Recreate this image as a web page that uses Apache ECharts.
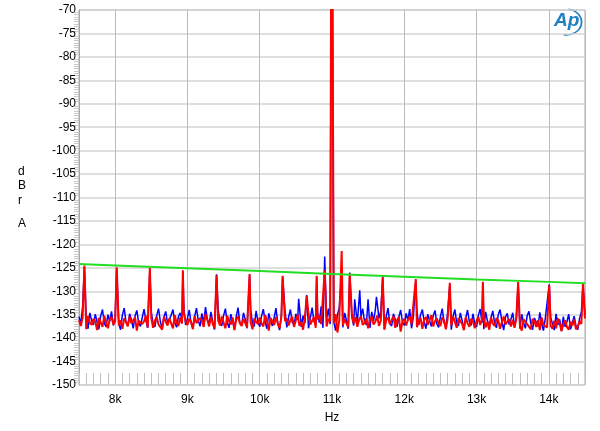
<!DOCTYPE html>
<html>
<head>
<meta charset="utf-8">
<script src="https://cdn.jsdelivr.net/npm/echarts@6/dist/echarts.min.js"></script>
<style>
  html, body { margin: 0; padding: 0; background: #fff; }
  #chart { width: 600px; height: 431px; }
</style>
</head>
<body>
<div id="chart"></div>
<script>
// noise floor, one value every 25 Hz from 7.5k to 14.5k (one row = 500 Hz)
let noiseStart = 7500
let noiseStep = 25
let redNoise = [
  -136.2, -137.4, -135.6, -136.9, -138.1, -135.3, -136.7, -137.2, -135.9, -136.4, -138.3, -135.7, -136.1, -137.6, -135.2, -136.8, -137.9, -136.0, -135.5, -137.1,
  -136.5, -135.1, -137.3, -136.2, -138.0, -135.8, -136.6, -137.5, -135.4, -136.9, -137.2, -135.6, -138.4, -136.3, -135.9, -137.0, -136.4, -135.2, -137.7, -136.1,
  -135.7, -137.8, -136.3, -135.5, -137.1, -136.8, -138.2, -135.4, -136.5, -137.3, -135.8, -136.2, -137.9, -135.1, -136.7, -137.4, -135.6, -136.9, -134.6, -136.4,
  -137.2, -135.9, -136.5, -138.1, -135.3, -136.8, -137.0, -135.7, -136.3, -137.6, -134.9, -136.1, -137.5, -135.5, -136.9, -138.0, -135.8, -136.2, -137.3, -135.4,
  -136.7, -137.9, -135.2, -136.4, -137.1, -135.6, -138.3, -136.0, -135.4, -136.8, -137.4, -135.9, -136.2, -137.7, -135.3, -136.6, -138.1, -135.8, -136.5, -137.0,
  -135.6, -136.9, -137.5, -135.1, -136.3, -138.4, -135.7, -136.0, -137.2, -135.5, -136.8, -137.9, -135.3, -139.1, -136.4, -135.8, -137.3, -136.1, -135.4, -137.6,
  -136.2, -135.0, -137.4, -136.5, -138.2, -135.6, -136.9, -134.8, -137.1, -136.3, -135.5, -137.8, -136.0, -135.2, -137.0, -136.6, -134.7, -137.5, -135.9, -136.4,
  -135.4, -136.8, -134.9, -138.8, -136.2, -135.1, -137.3, -136.0, -135.6, -137.7, -136.4, -134.9, -136.9, -135.5, -137.6, -136.1, -135.3, -137.2, -136.7, -135.8,
  -137.9, -136.0, -135.4, -137.1, -136.5, -135.2, -137.4, -136.3, -135.8, -138.2, -136.1, -135.6, -137.0, -136.7, -135.3, -137.8, -136.2, -135.5, -138.6, -136.4,
  -135.9, -137.3, -136.1, -135.4, -137.0, -136.6, -135.2, -137.7, -136.3, -135.7, -138.0, -136.0, -135.5, -137.2, -136.8, -135.1, -137.5, -136.4, -135.8, -136.9,
  -137.4, -135.6, -136.2, -138.1, -135.9, -136.7, -137.3, -135.4, -136.5, -137.8, -135.7, -136.1, -137.0, -138.3, -135.5, -136.8, -137.6, -135.9, -136.4, -137.9,
  -136.3, -135.5, -137.2, -136.0, -135.8, -137.7, -136.5, -138.2, -135.6, -136.9, -137.4, -135.7, -136.2, -138.0, -136.6, -135.4, -137.1, -136.8, -135.9, -137.5,
  -136.1, -137.8, -135.7, -136.5, -137.3, -138.4, -136.0, -135.8, -137.0, -136.7, -138.1, -135.9, -136.4, -137.6, -136.2, -138.3, -135.6, -137.2, -136.9, -137.7,
  -136.6, -137.4, -138.0, -136.3, -137.9, -135.8, -136.9, -138.5, -137.1, -136.2, -137.6, -138.2, -136.5, -137.3, -136.0, -138.1, -137.5, -136.4, -137.0, -136.1,
  -135.8
]
let blueNoise = [
  -135.4, -136.9, -133.3, -137.5, -135.8, -138.0, -134.6, -136.3, -137.2, -134.9, -136.6, -138.1, -135.2, -133.9, -136.8, -137.6, -135.0, -136.4, -134.3, -137.3,
  -135.7, -134.2, -136.9, -138.2, -135.1, -133.6, -136.5, -137.4, -134.8, -136.0, -137.9, -135.3, -134.1, -136.7, -137.5, -135.6, -133.8, -136.2, -137.8, -135.0,
  -134.5, -136.8, -137.6, -135.2, -133.7, -136.4, -138.0, -135.5, -134.3, -136.9, -137.3, -135.1, -133.9, -136.6, -137.7, -135.4, -134.6, -136.1, -133.5, -137.2,
  -135.8, -134.0, -136.7, -137.9, -135.3, -133.6, -136.2, -137.5, -134.7, -136.9, -133.4, -135.9, -137.1, -134.4, -136.5, -138.2, -135.0, -133.8, -136.8, -137.4,
  -135.2, -133.7, -136.6, -137.8, -134.9, -136.3, -138.1, -135.4, -133.5, -136.7, -137.3, -134.6, -136.0, -137.9, -135.1, -133.9, -136.8, -137.5, -134.2, -136.4,
  -137.6, -135.3, -133.8, -136.5, -138.0, -134.7, -136.2, -137.4, -135.6, -133.6, -136.9, -138.3, -135.0, -136.4, -134.1, -137.7, -135.5, -133.9, -136.6, -137.2,
  -134.8, -136.1, -133.4, -137.6, -135.2, -136.8, -134.0, -137.9, -135.7, -133.5, -136.4, -137.1, -134.5, -136.7, -133.2, -137.8, -135.3, -136.0, -133.7, -137.0,
  -134.3, -136.6, -138.4, -135.0, -133.6, -136.9, -137.7, -134.6, -136.2, -138.0, -133.8, -135.5, -137.3, -134.1, -136.8, -137.9, -135.4, -133.7, -136.5, -137.2,
  -135.1, -137.8, -134.4, -136.3, -133.9, -137.1, -135.8, -134.2, -136.7, -138.1, -135.3, -133.6, -136.9, -137.4, -134.8, -136.0, -137.6, -135.5, -134.0, -136.6,
  -137.3, -134.7, -136.2, -133.8, -137.9, -135.6, -136.8, -134.3, -137.2, -135.0, -133.9, -136.5, -138.0, -134.9, -136.3, -137.5, -135.2, -134.1, -136.9, -137.7,
  -135.4, -133.7, -136.6, -137.8, -134.5, -136.1, -138.2, -135.3, -133.9, -136.8, -137.4, -134.6, -136.2, -137.9, -135.7, -134.0, -136.5, -137.3, -134.8, -136.9,
  -137.6, -135.1, -133.8, -136.7, -138.1, -134.4, -136.3, -137.5, -135.6, -134.2, -136.9, -137.8, -135.0, -133.9, -136.4, -138.3, -135.5, -134.7, -137.1, -136.0,
  -134.6, -137.4, -135.8, -136.5, -138.0, -134.9, -136.7, -137.9, -135.2, -134.3, -136.8, -138.2, -135.7, -136.1, -137.5, -134.5, -136.9, -138.4, -135.9, -136.3,
  -137.8, -135.6, -136.9, -138.3, -134.8, -137.2, -136.0, -138.5, -135.4, -137.6, -136.5, -134.9, -138.1, -136.7, -135.3, -137.4, -138.2, -135.8, -134.4, -137.0,
  -135.1
]

// spikes (Hz / dBr A); the 11k tone runs off the top
let redSpikeFreqs = [7575, 8022, 8480, 8937, 9403, 9860, 10317, 10650, 10788, 10899, 10995, 11005, 11134, 11245, 11702, 12159, 12630, 13087, 13575, 14005, 14472]
let redSpikeLevels = [-124.5, -124.9, -125.0, -125.5, -126.6, -126.3, -126.7, -131.0, -126.7, -125.6, -20, -20, -121.4, -126.2, -127.0, -127.4, -128.2, -128.0, -128.0, -128.7, -128.3]
let blueSpikeFreqs = [7575, 8022, 8480, 8937, 9403, 9860, 10317, 10539, 10650, 10788, 10899, 10995, 11005, 11134, 11245, 11314, 11384, 11499, 11615, 11702, 12159, 12630, 13087, 13575, 14005, 14472]
let blueSpikeLevels = [-124.8, -125.2, -125.3, -125.8, -126.4, -126.6, -127.0, -131.6, -130.8, -127.0, -122.6, -20, -20, -126.5, -126.0, -131.7, -129.8, -131.7, -131.2, -126.8, -127.7, -128.5, -128.3, -128.3, -128.5, -128.6]

// green limit line
let limitFreqs = [7500, 8000, 9000, 10000, 11000, 12000, 13000, 14000, 14500]
let limitLevels = [-124.2, -124.5, -125.1, -125.7, -126.3, -126.9, -127.5, -128.0, -128.3]

function buildTrace(noise, spikeFreqs, spikeLevels) {
  let pts = noise
    .map((v, i) => [noiseStart + i * noiseStep, v])
    .filter(p => !spikeFreqs.some(f => Math.abs(f - p[0]) < 12))
  spikeFreqs.forEach((f, i) => pts.push([f, spikeLevels[i]]))
  pts.sort((a, b) => a[0] - b[0])
  return pts
}

let myChart = echarts.init(document.getElementById('chart'))
let font = 'Liberation Sans, Arial, sans-serif'

let option = {
  animation: false,
  backgroundColor: '#fff',
  grid: {
    left: 79,
    right: 15,
    top: 10,
    bottom: 46,
    show: true,
    borderColor: '#a8a8a8',
    borderWidth: 1
  },
  xAxis: [
    {
      type: 'value',
      min: 7500,
      max: 14500,
      splitNumber: 7,
      name: 'Hz',
      nameLocation: 'middle',
      nameGap: 27,
      nameTextStyle: { fontFamily: font, fontSize: 12, color: '#000' },
      axisLine: { show: false },
      axisTick: { show: false },
      axisLabel: {
        showMinLabel: false,
        showMaxLabel: false,
        margin: 9,
        fontFamily: font,
        fontSize: 12,
        color: '#000',
        formatter: v => v / 1000 + 'k'
      },
      splitLine: { lineStyle: { color: '#bcbcbc', width: 1 } }
    },
    {
      // 100 Hz ticks along the bottom
      type: 'value',
      min: 7500,
      max: 14500,
      interval: 100,
      position: 'bottom',
      axisLine: { show: false },
      axisLabel: { show: false },
      splitLine: { show: false },
      axisTick: { show: true, inside: true, length: 12, lineStyle: { color: '#c0c0c0' } }
    }
  ],
  yAxis: {
    type: 'value',
    min: -150,
    max: -70,
    interval: 5,
    axisLine: { show: true, lineStyle: { color: '#a8a8a8' } },
    axisTick: { show: false },
    minorTick: { show: true, splitNumber: 10, length: 5, lineStyle: { color: '#c8c8c8' } },
    axisLabel: { margin: 3, fontFamily: font, fontSize: 12, color: '#000' },
    splitLine: { lineStyle: { color: '#d4d4d4', width: 1.5 } }
  },
  graphic: [
    // y axis unit, stacked letters
    {
      type: 'text',
      left: 18,
      top: 164,
      style: { text: 'd\nB\nr', fill: '#000', font: '12px Liberation Sans, Arial, sans-serif', lineHeight: 14.5, align: 'center' }
    },
    {
      type: 'text',
      left: 18,
      top: 218,
      style: { text: 'A', fill: '#000', font: '12px Liberation Sans, Arial, sans-serif' }
    },
    {
      type: 'text',
      left: 554,
      top: 11,
      style: {
        text: 'Ap',
        fill: '#1f7fc4',
        font: 'italic bold 19px Liberation Sans, Arial, sans-serif'
      }
    },
    {
      type: 'arc',
      shape: { cx: 566, cy: 22, r: 13, startAngle: -Math.PI * 0.45, endAngle: Math.PI * 0.55 },
      scaleX: 1.2,
      originX: 566,
      originY: 22,
      style: { stroke: '#1f7fc4', lineWidth: 1.5, fill: null }
    }
  ],
  series: [
    {
      name: 'blue',
      type: 'line',
      symbol: 'none',
      data: buildTrace(blueNoise, blueSpikeFreqs, blueSpikeLevels),
      lineStyle: { color: '#0000ff', width: 1.5 },
      itemStyle: { color: '#0000ff' }
    },
    {
      name: 'red',
      type: 'line',
      symbol: 'none',
      data: buildTrace(redNoise, redSpikeFreqs, redSpikeLevels),
      lineStyle: { color: '#ff0000', width: 2 },
      itemStyle: { color: '#ff0000' }
    },
    {
      name: 'limit',
      type: 'line',
      symbol: 'none',
      data: limitFreqs.map((f, i) => [f, limitLevels[i]]),
      lineStyle: { color: '#22dd22', width: 2 },
      itemStyle: { color: '#22dd22' }
    }
  ]
}

myChart.setOption(option)
</script>
</body>
</html>
